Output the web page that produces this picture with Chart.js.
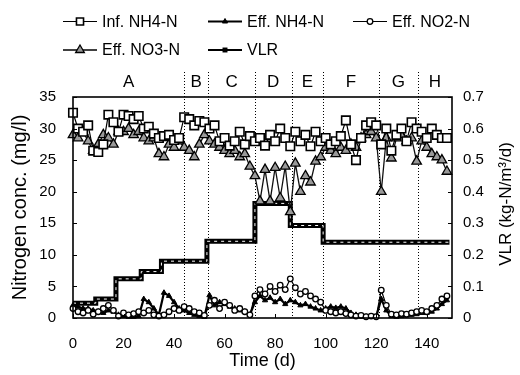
<!DOCTYPE html>
<html><head><meta charset="utf-8">
<script src="https://cdn.jsdelivr.net/npm/chart.js@4/dist/chart.umd.min.js"></script>
<style>html,body{margin:0;padding:0;background:#fff}canvas{display:block}</style>
</head><body>
<canvas id="c" width="520" height="375"></canvas>
<script>
// ---- data ----
const days = [0,2,4,6,8,10,12,14,16,18,20,22,24,26,28,30,32,34,36,38,40,42,44,46,48,50,52,54,56,58,60,62,64,66,68,70,72,74,76,78,80,82,84,86,88,90,92,94,96,98,100,102,104,106,108,110,112,114,116,118,120,122,124,126,128,130,132,134,136,138,140,142,144,146,148];
const infNH4 = [32.5,30.0,29.5,30.5,26.5,26.3,27.5,32.2,31.0,29.5,
                32.2,32.0,31.5,32.0,30.0,30.3,29.2,28.5,28.8,29.0,
                28.2,28.5,31.8,31.5,30.5,31.2,31.0,30.0,30.5,28.0,
                28.5,27.3,28.0,29.5,27.5,28.8,28.0,28.5,27.3,29.0,
                28.0,30.0,28.5,27.2,29.5,28.0,29.0,27.2,29.5,28.0,
                28.5,27.5,28.0,28.8,31.3,27.5,25.0,28.5,30.5,31.0,
                30.5,27.5,30.0,26.5,29.0,30.0,28.0,31.0,30.0,29.5,
                28.5,30.0,29.0,28.5,28.5];
const effNO3 = [29.0,28.5,29.5,28.0,26.5,27.5,29.0,28.5,27.5,29.5,
                29.5,30.0,29.0,29.5,28.5,28.0,28.5,26.0,25.5,27.5,
                27.0,28.0,27.0,26.5,25.5,27.5,29.0,28.0,27.5,27.0,
                26.5,26.0,26.5,25.5,26.0,24.0,22.5,18.5,23.5,18.5,
                23.8,19.0,24.0,16.8,24.5,20.0,22.5,21.5,24.8,25.5,
                27.0,26.5,26.0,27.0,26.5,27.5,27.0,28.5,29.0,29.5,
                28.5,20.0,28.5,25.3,28.5,29.0,28.0,28.5,24.8,28.0,
                27.0,26.0,25.5,25.0,23.2];
const effNO2 = [1.5,1.0,0.8,1.2,0.6,1.0,1.5,2.0,1.2,0.3,
                0.8,0.5,0.7,1.0,0.8,1.2,0.5,0.3,0.5,1.0,
                1.5,1.2,1.8,1.5,1.0,0.8,0.4,2.0,2.8,1.5,
                2.5,2.0,1.2,1.5,1.0,0.5,3.5,4.5,3.8,5.0,
                4.2,5.2,4.5,6.2,4.8,3.8,4.2,3.5,3.0,2.5,
                1.2,1.0,0.8,1.0,0.7,0.5,0.3,0.4,0.2,0.3,
                0.2,4.4,2.0,0.6,0.5,0.7,0.6,0.8,1.0,1.2,
                1.0,1.5,2.0,3.0,3.5];
const effNH4 = [2.0,1.8,1.5,1.5,1.2,1.0,0.8,1.2,1.0,0.5,
                0.3,0.2,0.2,0.3,3.0,2.5,1.5,0.5,4.0,3.5,
                2.5,1.5,1.2,0.8,0.5,0.3,0.2,3.6,2.0,2.5,
                2.2,1.8,1.5,1.2,1.0,0.5,2.5,3.5,2.8,3.2,
                2.5,3.0,2.2,2.8,2.5,2.0,2.2,1.8,1.5,1.2,
                1.5,1.8,1.6,1.8,1.5,0.8,0.5,0.3,0.2,0.3,
                0.2,3.0,1.2,0.3,0.2,0.3,0.4,0.5,0.6,0.8,
                0.8,1.0,1.5,2.2,2.8];
const vlrDays = [0,9,17,27,35,53,72,86,99,149];
const vlr = [0.047,0.06,0.124,0.147,0.18,0.243,0.363,0.293,0.24,0.24];

const phaseBounds = [44,53.5,72,86.5,99,121,136.5];
const phaseLabels = ['A','B','C','D','E','F','G','H'];
const xTicks = [0,20,40,60,80,100,120,140];
const yTicks = [0,5,10,15,20,25,30,35];
const y2Ticks = [0,0.1,0.2,0.3,0.4,0.5,0.6,0.7];
const xTitle = 'Time (d)';
const yTitle = 'Nitrogen conc. (mg/l)';
const y2Title = 'VLR (kg-N/m\u00B3/d)';

const FONT = '"Liberation Sans", Arial, sans-serif';
function pts(xs, ys){ return xs.map((v,i)=>({x:v, y:ys[i]})); }

function mark(ctx, style, cx, cy, r, fill, stroke, lw){
  ctx.beginPath();
  if (style === 'rect') { const s = r*Math.SQRT1_2; ctx.rect(cx-s, cy-s, 2*s, 2*s); }
  else if (style === 'triangle') {
    for (let k=0;k<3;k++){ const a = k*2*Math.PI/3; const px = cx+Math.sin(a)*r, py = cy-Math.cos(a)*r; if(k) ctx.lineTo(px,py); else ctx.moveTo(px,py); }
    ctx.closePath();
  } else { ctx.arc(cx, cy, r, 0, 2*Math.PI); }
  ctx.fillStyle = fill; ctx.fill();
  if (lw) { ctx.lineWidth = lw; ctx.strokeStyle = stroke; ctx.setLineDash([]); ctx.stroke(); }
}

const legendItems = [
  {ds:0, x:63, y:21.5}, {ds:3, x:208, y:21.5}, {ds:2, x:353, y:21.5},
  {ds:1, x:63, y:50}, {ds:5, x:208, y:50, vlr:true}
];

const overlay = {
  id: 'overlay',
  beforeDatasetsDraw(chart){
    const {ctx, chartArea: ca, scales:{x}} = chart;
    ctx.save();
    ctx.strokeStyle = '#000'; ctx.lineWidth = 1; ctx.setLineDash([1,2]);
    phaseBounds.forEach(b => {
      const px = Math.round(x.getPixelForValue(b)) + 0.5;
      ctx.beginPath(); ctx.moveTo(px, 72); ctx.lineTo(px, ca.bottom); ctx.stroke();
    });
    ctx.restore();
  },
  afterDraw(chart){
    const {ctx, chartArea: ca, scales:{x, y, y2}} = chart;
    ctx.save();
    ctx.setLineDash([]);
    ctx.strokeStyle = '#000'; ctx.lineWidth = 1.6;
    ctx.strokeRect(ca.left, ca.top, ca.right-ca.left, ca.bottom-ca.top);
    ctx.lineWidth = 1;
    ctx.beginPath();
    yTicks.forEach(v => { const p = Math.round(y.getPixelForValue(v))+0.5; ctx.moveTo(ca.left, p); ctx.lineTo(ca.left+4, p); });
    y2Ticks.forEach(v => { const p = Math.round(y2.getPixelForValue(v))+0.5; ctx.moveTo(ca.right, p); ctx.lineTo(ca.right-4, p); });
    xTicks.forEach(v => { const p = Math.round(x.getPixelForValue(v))+0.5; ctx.moveTo(p, ca.bottom); ctx.lineTo(p, ca.bottom-4); });
    ctx.stroke();
    // phase letters
    ctx.fillStyle = '#000'; ctx.textAlign = 'center'; ctx.textBaseline = 'middle';
    ctx.font = '17px ' + FONT;
    const edges = [x.min, ...phaseBounds, x.max];
    phaseLabels.forEach((l,i) => {
      const cx = (x.getPixelForValue(edges[i]) + x.getPixelForValue(edges[i+1]))/2;
      ctx.fillText(l, cx, 82);
    });
    // right axis title (reads bottom to top)
    ctx.save(); ctx.translate(506, 204); ctx.rotate(-Math.PI/2);
    ctx.font = '17px ' + FONT; ctx.fillText(y2Title, 0, 0); ctx.restore();
    // legend
    const dss = chart.data.datasets;
    legendItems.forEach(it => {
      const d = dss[it.ds];
      ctx.setLineDash([]);
      ctx.strokeStyle = '#000'; ctx.lineWidth = it.vlr ? 2 : (d.borderWidth || 1);
      ctx.beginPath(); ctx.moveTo(it.x, it.y); ctx.lineTo(it.x+34, it.y); ctx.stroke();
      if (it.vlr) mark(ctx, 'rect', it.x+17, it.y, 3.5, '#000', '#000', 0);
      else mark(ctx, d.pointStyle, it.x+17, it.y, Math.min(d.pointRadius, 5), d.pointBackgroundColor, d.pointBorderColor, d.pointBorderWidth);
      ctx.fillStyle = '#000'; ctx.textAlign = 'left'; ctx.textBaseline = 'middle';
      ctx.font = '16px ' + FONT;
      ctx.fillText(d.label, it.x+39, it.y+1);
    });
    ctx.restore();
  }
};

new Chart(document.getElementById('c'), {
  type: 'line',
  data: { datasets: [
    {label:'Inf. NH4-N', data: pts(days, infNH4), yAxisID:'y', borderColor:'#000', borderWidth:1.2,
     pointStyle:'rect', pointRadius:6, pointBackgroundColor:'#fff', pointBorderColor:'#000', pointBorderWidth:1.6, clip:false},
    {label:'Eff. NO3-N', data: pts(days, effNO3), yAxisID:'y', borderColor:'#111', borderWidth:1.3,
     pointStyle:'triangle', pointRadius:5.5, pointBackgroundColor:'#999', pointBorderColor:'#000', pointBorderWidth:1.3, clip:false},
    {label:'Eff. NO2-N', data: pts(days, effNO2), yAxisID:'y', borderColor:'#000', borderWidth:1.2,
     pointStyle:'circle', pointRadius:2.8, pointBackgroundColor:'#fff', pointBorderColor:'#000', pointBorderWidth:1.3, clip:false},
    {label:'Eff. NH4-N', data: pts(days, effNH4), yAxisID:'y', borderColor:'#000', borderWidth:2.2,
     pointStyle:'triangle', pointRadius:3, pointBackgroundColor:'#000', pointBorderColor:'#000', pointBorderWidth:1, clip:false},
    {label:'VLR dash', data: pts(vlrDays, vlr), yAxisID:'y2', stepped:true, borderColor:'#fff', borderWidth:1,
     borderDash:[3,4], pointRadius:0},
    {label:'VLR', data: pts(vlrDays, vlr), yAxisID:'y2', stepped:true, borderColor:'#000', borderWidth:5, pointRadius:0}
  ]},
  options: {
    responsive:false, animation:false, devicePixelRatio:1,
    layout:{padding:{top:97, left:0, right:0, bottom:0}},
    plugins:{legend:{display:false}, tooltip:{enabled:false}},
    elements:{line:{tension:0, fill:false}},
    scales:{
      x:{type:'linear', min:0, max:150,
         afterBuildTicks: s => { s.ticks = xTicks.map(v => ({value:v})); },
         afterFit: s => { s.height = 57; },
         ticks:{font:{family:FONT, size:15}, color:'#000', padding:17, maxRotation:0, autoSkip:false, callback: v => String(v)},
         grid:{display:false, drawTicks:false}, border:{display:false},
         title:{display:true, text:xTitle, color:'#000', font:{family:FONT, size:18}, padding:{top:0, bottom:3}}},
      y:{type:'linear', position:'left', min:0, max:35,
         afterBuildTicks: s => { s.ticks = yTicks.map(v => ({value:v})); },
         afterFit: s => { s.width = 73; },
         ticks:{font:{family:FONT, size:15}, color:'#000', padding:17, callback: v => String(v)},
         grid:{display:false, drawTicks:false}, border:{display:false},
         title:{display:true, text:yTitle, color:'#000', font:{family:FONT, size:20}, padding:{top:8, bottom:0}}},
      y2:{type:'linear', position:'right', min:0, max:0.7,
         afterBuildTicks: s => { s.ticks = y2Ticks.map(v => ({value:v})); },
         afterFit: s => { s.width = 68; },
         ticks:{font:{family:FONT, size:15}, color:'#000', padding:11, callback: v => String(v)},
         grid:{display:false, drawTicks:false}, border:{display:false}}
    }
  },
  plugins:[overlay]
});
</script>
</body></html>
